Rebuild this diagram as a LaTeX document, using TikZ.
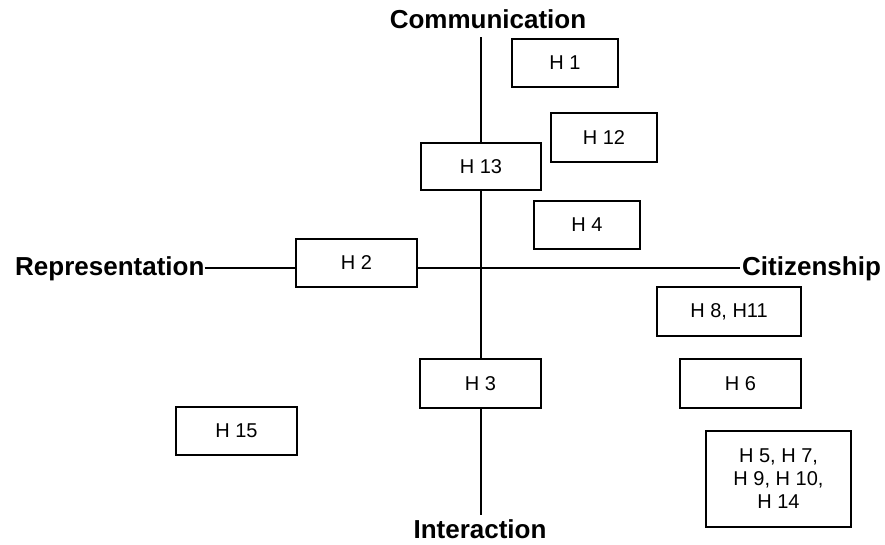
\documentclass[tikz,border=0pt]{standalone}
\usepackage{fontspec}
\setmainfont{Liberation Sans}
\begin{document}
\begin{tikzpicture}[x=1pt,y=-1pt,
  axislabel/.style={inner sep=0pt,font=\fontsize{26}{30}\selectfont\bfseries},
  axisline/.style={line width=1.6pt},
  hbox/.style={draw,line width=1.5pt,fill=white,inner sep=0pt,align=center,
    font=\fontsize{20}{23}\selectfont},
]
\useasboundingbox (0,0) rectangle (885,545);

% axis labels
\node[axislabel,anchor=base] (comm) at (488,28.6) {Communication};
\node[axislabel,anchor=base] (inter) at (480,538.6) {Interaction};
\node[axislabel,anchor=base west] (rep) at (15,275) {Representation};
\node[axislabel,anchor=base west] (cit) at (742,275) {Citizenship};

% axes
\draw[axisline,shorten <=8pt,shorten >=5pt] (comm.south -| 481,0) -- (inter.north -| 481,0);
\draw[axisline,shorten >=2pt] (rep.east) -- (cit.west);

% boxes
\node[hbox,minimum width=106,minimum height=48] (h1) at (565,63) {H 1};
\node[hbox,minimum width=106,minimum height=49] (h12) at (604,137.5) {H 12};
\node[hbox,minimum width=120,minimum height=47] (h13) at (481,166.5) {H 13};
\node[hbox,minimum width=106,minimum height=48] (h4) at (587,225) {H 4};
\node[hbox,minimum width=121,minimum height=48] (h2) at (356.5,263) {H 2};
\node[hbox,minimum width=144,minimum height=49] (h811) at (729,311.5) {H 8, H11};
\node[hbox,minimum width=121,minimum height=49] (h3) at (480.5,383.5) {H 3};
\node[hbox,minimum width=121,minimum height=49] (h6) at (740.5,383.5) {H 6};
\node[hbox,minimum width=145,minimum height=96] (h5) at (778.5,479) {H 5, H 7,\\H 9, H 10,\\H 14};
\node[hbox,minimum width=121,minimum height=48] (h15) at (236.5,431) {H 15};
\end{tikzpicture}
\end{document}
